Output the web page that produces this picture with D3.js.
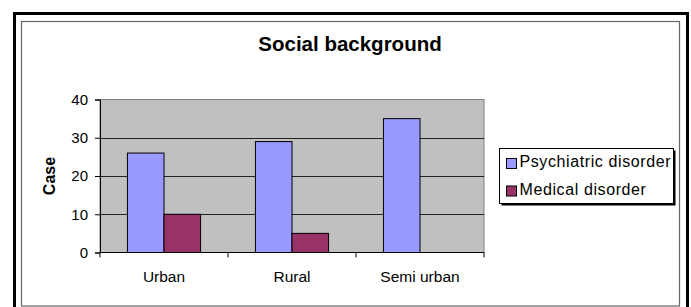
<!DOCTYPE html>
<html>
<head>
<meta charset="utf-8">
<script src="https://cdn.jsdelivr.net/npm/d3@7"></script>
<style>
  html, body { margin: 0; padding: 0; background: #fff; }
  svg { display: block; font-family: Arial, "Liberation Sans", sans-serif; }
</style>
</head>
<body>
<svg id="chart" width="691" height="307"></svg>
<script>
// data
const categories = ["Urban", "Rural", "Semi urban"];
const seriesNames = ["Psychiatric disorder", "Medical disorder"];
const psychiatric = [26, 29, 35];
const medical = [10, 5, 0];
const yTicks = [0, 10, 20, 30, 40];
const colors = ["#9999ff", "#993366"];

const svg = d3.select("#chart");

// frames
svg.append("rect")
    .attr("x", 14.5).attr("y", 13.5)
    .attr("width", 673).attr("height", 310)
    .attr("fill", "none").attr("stroke", "#000").attr("stroke-width", 3);
svg.append("rect")
    .attr("x", 21.5).attr("y", 21.5)
    .attr("width", 658).attr("height", 284.5)
    .attr("fill", "#fff").attr("stroke", "#666").attr("stroke-width", 1.2);

// title
svg.append("text")
    .attr("x", 350).attr("y", 50.5)
    .attr("text-anchor", "middle")
    .attr("font-weight", "bold")
    .attr("font-size", 20.5)
    .text("Social background");

const plot = { left: 100, right: 484, top: 99.5, bottom: 252.5 };

const x = d3.scaleBand().domain(categories).range([plot.left, plot.right]);
const barW = x.bandwidth() / 3.5; // gap width 150%
const xs = d3.scaleBand().domain(seriesNames).range([0, 2 * barW]);
const y = d3.scaleLinear().domain([0, 40]).range([plot.bottom, plot.top]);

// plot area
svg.append("rect")
    .attr("x", plot.left).attr("y", plot.top)
    .attr("width", plot.right - plot.left).attr("height", plot.bottom - plot.top)
    .attr("fill", "#c0c0c0").attr("stroke", "#808080").attr("stroke-width", 1);

// gridlines
svg.append("g")
    .selectAll("line")
    .data(yTicks.filter(d => d > 0 && d < 40))
    .enter().append("line")
    .attr("x1", plot.left).attr("x2", plot.right)
    .attr("y1", d => Math.round(y(d)) + 0.5).attr("y2", d => Math.round(y(d)) + 0.5)
    .attr("stroke", "#222").attr("stroke-width", 1);

// bars
const rows = categories.map((c, i) => ({ cat: c, values: [psychiatric[i], medical[i]] }));
const groups = svg.append("g")
    .selectAll("g")
    .data(rows)
    .enter().append("g")
    .attr("transform", d => `translate(${x(d.cat) + 0.75 * barW},0)`);

groups.selectAll("rect")
    .data(d => d.values.map((v, j) => ({ name: seriesNames[j], value: v, j: j })).filter(d => d.value > 0))
    .enter().append("rect")
    .attr("x", d => xs(d.name))
    .attr("y", d => y(d.value))
    .attr("width", xs.bandwidth())
    .attr("height", d => y(0) - y(d.value))
    .attr("fill", d => colors[d.j])
    .attr("stroke", "#000").attr("stroke-width", 1);

// y axis
const yAxis = svg.append("g")
    .attr("transform", `translate(${plot.left},0)`)
    .call(d3.axisLeft(y).tickValues(yTicks).tickSize(5).tickPadding(7).tickFormat(d3.format("d")));
yAxis.select(".domain").attr("stroke", "#000");
yAxis.selectAll(".tick line").attr("stroke", "#000");
yAxis.selectAll("text").attr("font-size", 15).attr("fill", "#000")
    .attr("font-family", "Arial, 'Liberation Sans', sans-serif");

// x axis: ticks at category boundaries
const xAxisG = svg.append("g");
xAxisG.append("line")
    .attr("x1", plot.left).attr("x2", plot.right)
    .attr("y1", plot.bottom).attr("y2", plot.bottom)
    .attr("stroke", "#000");
xAxisG.selectAll("line.tk")
    .data(categories.concat(["end"]))
    .enter().append("line")
    .attr("class", "tk")
    .attr("x1", (d, i) => i < categories.length ? x(d) : plot.right)
    .attr("x2", (d, i) => i < categories.length ? x(d) : plot.right)
    .attr("y1", plot.bottom).attr("y2", plot.bottom + 5)
    .attr("stroke", "#000");
xAxisG.selectAll("text")
    .data(categories)
    .enter().append("text")
    .attr("x", d => x(d) + x.bandwidth() / 2)
    .attr("y", 282)
    .attr("text-anchor", "middle")
    .attr("font-size", 15.5)
    .text(d => d);

// y axis title
svg.append("text")
    .attr("transform", `translate(55,${(plot.top + plot.bottom) / 2}) rotate(-90)`)
    .attr("text-anchor", "middle")
    .attr("font-weight", "bold")
    .attr("font-size", 16)
    .text("Case");

// legend
const legend = svg.append("g").attr("transform", "translate(499.5,148.5)");
legend.append("rect")
    .attr("x", 2).attr("y", 2).attr("width", 174).attr("height", 55)
    .attr("fill", "#000");
legend.append("rect")
    .attr("width", 174).attr("height", 55)
    .attr("fill", "#fff").attr("stroke", "#000").attr("stroke-width", 1);

const items = legend.selectAll("g.item")
    .data(seriesNames)
    .enter().append("g")
    .attr("class", "item")
    .attr("transform", (d, i) => `translate(7,${10 + i * 27.5})`);
items.append("rect")
    .attr("width", 10).attr("height", 10)
    .attr("fill", (d, i) => colors[i])
    .attr("stroke", "#000").attr("stroke-width", 1);
items.append("text")
    .attr("x", 13).attr("y", 8.5)
    .attr("font-size", 16)
    .attr("letter-spacing", 0.6)
    .text(d => d);
</script>
</body>
</html>
